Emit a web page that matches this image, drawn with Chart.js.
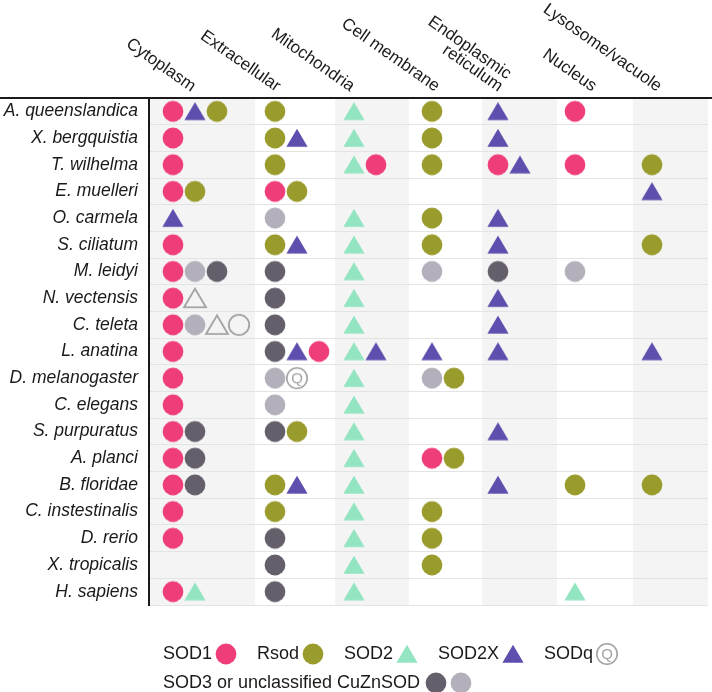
<!DOCTYPE html>
<html><head><meta charset="utf-8">
<script src="https://cdn.jsdelivr.net/npm/chart.js@4/dist/chart.umd.min.js"></script>
<style>html,body{margin:0;padding:0;background:#fff}#wrap{width:712px;height:692px;position:relative}</style>
</head><body><div id="wrap"><canvas id="c"></canvas></div>
<script>
// ---------- DATA ----------
const species = ['A. queenslandica','X. bergquistia','T. wilhelma','E. muelleri','O. carmela','S. ciliatum','M. leidyi','N. vectensis','C. teleta','L. anatina','D. melanogaster','C. elegans','S. purpuratus','A. planci','B. floridae','C. instestinalis','D. rerio','X. tropicalis','H. sapiens'];
const locations = ['Cytoplasm','Extracellular','Mitochondria','Cell membrane',['Endoplasmic','reticulum'],'Nucleus','Lysosome/vacuole'];
// marker codes: P=SOD1, R=Rsod, M=SOD2, X=SOD2X, Q=SODq, D=SOD3 (dark), L=unclassified CuZnSOD (light), T=open triangle, O=open circle
const cytoplasm     = ['PXR','P','P','PR','X','P','PLD','PT','PLTO','P','P','P','PD','PD','PD','P','P','','PM'];
const extracellular = ['R','RX','R','PR','L','RX','D','D','D','DXP','LQ','L','DR','','RX','R','D','D','D'];
const mitochondria  = ['M','M','MP','','M','M','M','M','M','MX','M','M','M','M','M','M','M','M','M'];
const cellMembrane  = ['R','R','R','','R','R','L','','','X','LR','','','PR','','R','R','R',''];
const reticulum     = ['X','X','PX','','X','X','D','X','X','X','','','X','','X','','','',''];
const nucleus       = ['P','','P','','','','L','','','','','','','','R','','','','M'];
const lysosome      = ['','','R','X','','R','','','','X','','','','','R','','','',''];
const legendRow1 = [['SOD1','P'],['Rsod','R'],['SOD2','M'],['SOD2X','X'],['SODq','Q']];
const legendRow2Label = 'SOD3 or unclassified CuZnSOD';
const legendRow2Markers = ['D','L'];

// ---------- STYLE / LAYOUT ----------
const FONT = '"Liberation Sans", Arial, sans-serif';
const markerTypes = {
  P:{name:'SOD1', color:'#ef3d79', shape:'circle'},
  R:{name:'Rsod', color:'#999b2c', shape:'circle'},
  M:{name:'SOD2', color:'#93e4c1', shape:'triangle'},
  X:{name:'SOD2X', color:'#5e4eae', shape:'triangle'},
  Q:{name:'SODq', color:'#a3a3a3', shape:'q'},
  D:{name:'SOD3', color:'#655e6b', shape:'circle'},
  L:{name:'unclassified CuZnSOD', color:'#b3b0bb', shape:'circle'},
  T:{name:'open triangle', color:'#a3a3a3', shape:'openTriangle'},
  O:{name:'open circle', color:'#a3a3a3', shape:'openCircle'}
};
const colBounds = [0,106,186,260,333,408,484,559];
const firstSlot = [24,20,19,23,16,18,19];
const slotStep = 22;
const headerEnd = [42,21,15,26,16,35,24];
const headerAngle = 35;

function markerCanvas(code){
  const t = markerTypes[code];
  const cv = document.createElement('canvas');
  cv.width = 26; cv.height = 26;
  const g = cv.getContext('2d');
  const c = 13;
  g.fillStyle = t.color; g.strokeStyle = t.color;
  if (t.shape === 'circle'){
    g.beginPath(); g.arc(c, c, 10.4, 0, Math.PI*2); g.fill();
  } else if (t.shape === 'triangle'){
    g.beginPath(); g.moveTo(c, c-9.2); g.lineTo(c+10.6, c+8.8); g.lineTo(c-10.6, c+8.8); g.closePath(); g.fill();
  } else if (t.shape === 'openTriangle'){
    g.lineWidth = 1.8;
    g.beginPath(); g.moveTo(c, c-9.5); g.lineTo(c+11, c+9.2); g.lineTo(c-11, c+9.2); g.closePath(); g.stroke();
  } else if (t.shape === 'openCircle'){
    g.lineWidth = 1.8;
    g.beginPath(); g.arc(c, c, 10.2, 0, Math.PI*2); g.stroke();
  } else if (t.shape === 'q'){
    g.lineWidth = 1.6;
    g.beginPath(); g.arc(c, c, 10.2, 0, Math.PI*2); g.stroke();
    g.font = '15px ' + FONT; g.textAlign = 'center'; g.textBaseline = 'middle';
    g.fillText('Q', c, c + 1);
  }
  return cv;
}

const columns = [cytoplasm, extracellular, mitochondria, cellMembrane, reticulum, nucleus, lysosome];
const markerCanvases = {};
Object.keys(markerTypes).forEach(k => markerCanvases[k] = markerCanvas(k));

const datasets = Object.keys(markerTypes).map(code => {
  const pts = [];
  columns.forEach((col, c) => col.forEach((cell, r) => {
    [...cell].forEach((ch, s) => {
      if (ch === code) pts.push({x: colBounds[c] + firstSlot[c] + s*slotStep, y: species[r]});
    });
  }));
  return {label: markerTypes[code].name, data: pts, pointStyle: markerCanvases[code],
          pointRadius: 11, pointHoverRadius: 11, showLine: false};
});

const decor = {
  id: 'decor',
  beforeDraw(chart){
    const {ctx, chartArea: a, scales: {x}} = chart;
    ctx.save();
    ctx.fillStyle = '#f4f4f4';
    for (let c = 0; c < columns.length; c += 2){
      const l = x.getPixelForValue(colBounds[c]), r = x.getPixelForValue(colBounds[c+1]);
      ctx.fillRect(l, a.top, r - l, a.bottom - a.top);
    }
    ctx.restore();
  },
  afterDraw(chart){
    const {ctx, chartArea: a, scales: {x}} = chart;
    ctx.save();
    // top rule
    ctx.fillStyle = '#1a1a1a';
    ctx.fillRect(0, a.top - 1, chart.width, 2);
    // header labels
    ctx.font = '17px ' + FONT;
    ctx.fillStyle = '#1a1a1a';
    ctx.textAlign = 'right'; ctx.textBaseline = 'alphabetic';
    locations.forEach((lab, c) => {
      const lines = Array.isArray(lab) ? lab : [lab];
      const px = x.getPixelForValue(colBounds[c] + headerEnd[c]);
      ctx.save();
      ctx.translate(px, a.top - 6);
      ctx.rotate(headerAngle * Math.PI / 180);
      for (let i = lines.length - 1, k = 0; i >= 0; i--, k++){
        ctx.fillText(lines[i], 0, -k * 15);
      }
      ctx.restore();
    });
    // legend
    ctx.font = '18px ' + FONT;
    ctx.textAlign = 'left'; ctx.textBaseline = 'middle';
    ctx.fillStyle = '#1a1a1a';
    let lx = 163, ly = 654;
    legendRow1.forEach(([txt, code]) => {
      ctx.fillText(txt, lx, ly);
      lx += ctx.measureText(txt).width + 3;
      const m = markerCanvases[code];
      ctx.drawImage(m, Math.round(lx + 10.5 - m.width/2), Math.round(ly - m.height/2));
      lx += 21 + 21;
    });
    lx = 163; ly = 683;
    ctx.fillText(legendRow2Label, lx, ly);
    lx += ctx.measureText(legendRow2Label).width + 5;
    legendRow2Markers.forEach(code => {
      const m = markerCanvases[code];
      ctx.drawImage(m, Math.round(lx + 10.5 - m.width/2), Math.round(ly - m.height/2));
      lx += 25;
    });
    ctx.restore();
  }
};

new Chart(document.getElementById('c'), {
  type: 'scatter',
  data: {datasets},
  options: {
    responsive: true, maintainAspectRatio: false, animation: false,
    layout: {autoPadding: false, padding: {top: 98, bottom: 87, right: 4, left: 0}},
    plugins: {legend: {display: false}, tooltip: {enabled: false}},
    events: [],
    scales: {
      x: {type: 'linear', min: colBounds[0], max: colBounds[colBounds.length-1], display: false},
      y: {
        type: 'category', labels: species, offset: true,
        afterFit(s){ s.width = 149; },
        border: {display: true, color: '#1a1a1a', width: 2},
        grid: {offset: true, drawTicks: false, lineWidth: 1,
               color: ctx => (ctx.index === 0 || ctx.index === species.length) ? 'rgba(0,0,0,0)' : '#e3e3e3'},
        ticks: {padding: 11, color: '#1a1a1a', font: {family: FONT, size: 17.5, style: 'italic'}}
      }
    }
  },
  plugins: [decor]
});
</script>
</body></html>
